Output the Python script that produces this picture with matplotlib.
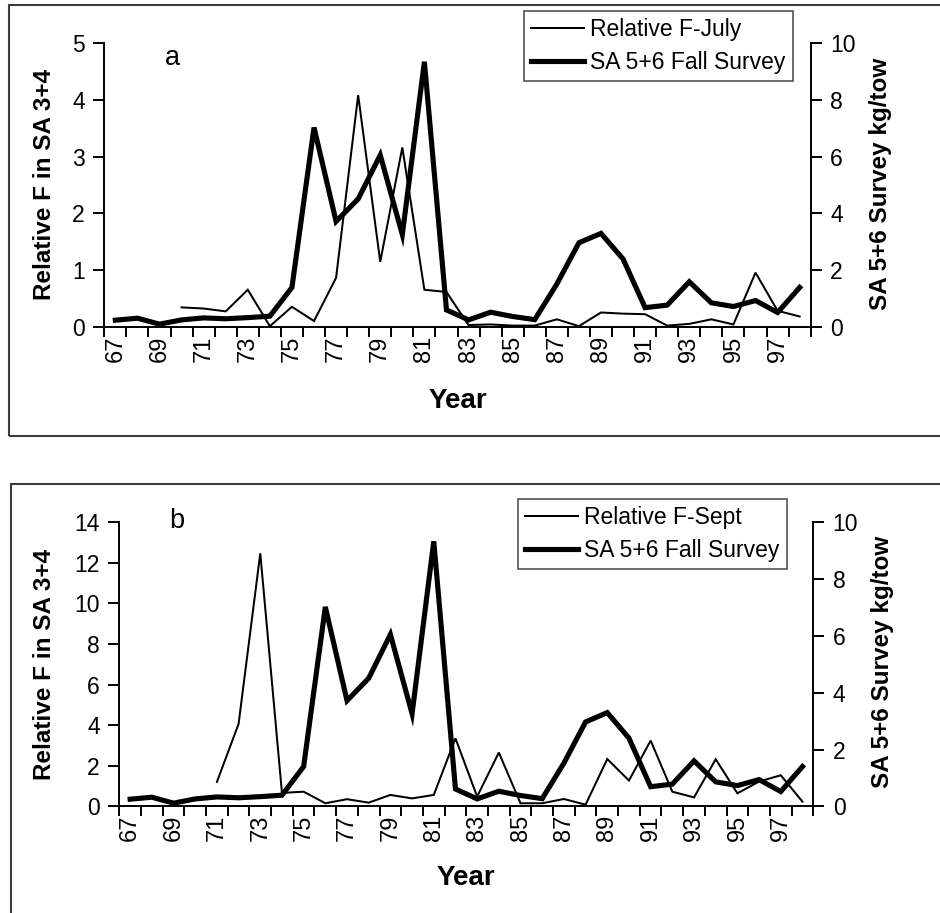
import numpy as np
import matplotlib
matplotlib.use("Agg")
import matplotlib.pyplot as plt
from matplotlib.patches import Rectangle

plt.rcParams['font.family'] = ['Liberation Sans', 'DejaVu Sans']

years = list(range(67, 99))
year_labels = [str(y) if (y - 67) % 2 == 0 else "" for y in years]

survey = [0.25, 0.32, 0.11, 0.26, 0.33, 0.30, 0.34, 0.39, 1.40, 7.02, 3.72, 4.51,
          6.05, 3.26, 9.33, 0.61, 0.26, 0.53, 0.38, 0.27, 1.52, 2.97, 3.30, 2.40,
          0.69, 0.78, 1.60, 0.86, 0.73, 0.94, 0.52, 1.40]
rel_f_july = [np.nan, np.nan, np.nan, 0.35, 0.33, 0.28, 0.66, 0.02, 0.36, 0.11, 0.87, 4.08,
              1.15, 3.16, 0.66, 0.62, 0.04, 0.05, 0.03, 0.03, 0.14, 0.02, 0.26, 0.24,
              0.23, 0.03, 0.06, 0.14, 0.05, 0.96, 0.29, 0.19]
rel_f_sept = [np.nan, np.nan, np.nan, np.nan, 1.20, 4.06, 12.47, 0.66, 0.72, 0.15, 0.35, 0.18,
              0.56, 0.39, 0.56, 3.35, 0.48, 2.65, 0.15, 0.15, 0.36, 0.08, 2.33, 1.27,
              3.24, 0.72, 0.44, 2.32, 0.64, 1.22, 1.53, 0.23]

W, H = 940, 913
fig = plt.figure(figsize=(W / 100, H / 100), dpi=100)

FS = 16.5
LW_AX = 1.4


def px_rect(l, t, r, b):
    return [l / W, 1 - b / H, (r - l) / W, (b - t) / H]


def make_panel(rect, thin, thin_label, left_max, left_step, letter, letter_xy,
               legend_xy, ylab_l, ylab_r, year_xy, box):
    ax = fig.add_axes(px_rect(*rect))
    ax2 = ax.twinx()
    x = np.arange(len(years))
    l1, = ax.plot(x, thin, color='black', lw=1.45, solid_joinstyle='miter')
    l2, = ax2.plot(x, survey, color='black', lw=3.7, solid_joinstyle='miter')
    ax.set_zorder(ax2.get_zorder() + 1)
    ax.patch.set_visible(False)
    ax.set_xlim(-0.5, len(years) - 0.5)
    ax.set_ylim(0, left_max)
    ax2.set_ylim(0, 10)
    ax.set_yticks(np.arange(0, left_max + 0.01, left_step))
    ax2.set_yticks(np.arange(0, 10.01, 2))
    ax.set_xticks(np.arange(-0.5, len(years), 1.0), minor=False)
    ax.set_xticklabels([])
    ax.set_xticks(x, minor=True)
    ax.set_xticklabels(year_labels, minor=True, rotation=90, fontsize=17)
    ax.tick_params(axis='x', which='minor', length=0, pad=6)
    ax.tick_params(axis='x', which='major', length=7, width=LW_AX, direction='out')
    ax.tick_params(axis='y', length=8, width=LW_AX, labelsize=FS, pad=6)
    ax2.tick_params(axis='y', length=8, width=LW_AX, labelsize=FS, pad=6)
    for a in (ax, ax2):
        a.spines['top'].set_visible(False)
        for s in ('left', 'right', 'bottom'):
            a.spines[s].set_linewidth(LW_AX)
    ax.spines['right'].set_visible(False)
    ax2.spines['left'].set_visible(False)
    ax2.spines['bottom'].set_visible(False)
    ax.set_xlim(-0.5, len(years) - 0.5)

    fig.text(letter_xy[0] / W, 1 - letter_xy[1] / H, letter, fontsize=19.5,
             ha='center', va='center')
    fig.text(ylab_l[0] / W, 1 - ylab_l[1] / H, "Relative F in SA 3+4", fontsize=17.5,
             fontweight='bold', rotation=90, ha='center', va='center')
    fig.text(ylab_r[0] / W, 1 - ylab_r[1] / H, "SA 5+6 Survey kg/tow", fontsize=17.5,
             fontweight='bold', rotation=90, ha='center', va='center')
    fig.text(year_xy[0] / W, 1 - year_xy[1] / H, "Year", fontsize=20,
             fontweight='bold', ha='center', va='center')

    leg = fig.legend([l1, l2], [thin_label, "SA 5+6 Fall Survey"], loc='upper left',
                     bbox_to_anchor=(legend_xy[0] / W, 1 - legend_xy[1] / H),
                     bbox_transform=fig.transFigure, fontsize=FS, frameon=True,
                     fancybox=False, edgecolor='#444444', framealpha=1,
                     borderaxespad=0, borderpad=0.3, handlelength=2.3,
                     handletextpad=0.3, labelspacing=0.45)
    leg.get_frame().set_linewidth(1.1)

    bl, bt, br, bb = box
    fig.patches.append(Rectangle((bl / W, 1 - bb / H), (br - bl) / W, (bb - bt) / H,
                                 transform=fig.transFigure, fill=False,
                                 edgecolor='#3c3c3c', lw=1.5, clip_on=False))
    return ax, ax2


make_panel((104.3, 42.7, 810.7, 327.3), rel_f_july, "Relative F-July", 5, 1, "a",
           (172, 58), (524, 11), (45, 184), (880, 184), (458, 401), (9, 5, 960, 436))
make_panel((119.3, 522.3, 813.3, 806.3), rel_f_sept, "Relative F-Sept", 14, 2, "b",
           (177, 521), (518, 499), (45, 664), (882, 662), (466, 878), (11, 484, 960, 960))

fig.savefig("out.png", dpi=100)
